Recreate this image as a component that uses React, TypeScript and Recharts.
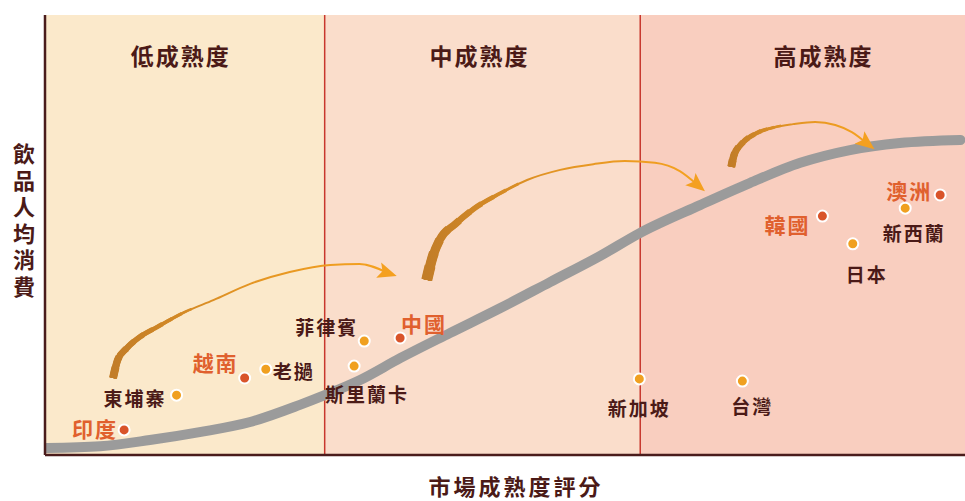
import React from "react";
import {
  ComposedChart,
  Label,
  Line,
  ReferenceArea,
  ReferenceLine,
  Scatter,
  XAxis,
  YAxis,
} from "recharts";

// x: 市場成熟度評分 (0-100), y: 飲品人均消費 (0-100)
const zoneNames = ["低成熟度", "中成熟度", "高成熟度"];
const zoneBreaks = [0, 30.4, 64.7, 100];

const maturityCurve = [
  { x: 0.2, y: 1.6 },
  { x: 6.0, y: 2.0 },
  { x: 11.4, y: 3.4 },
  { x: 16.8, y: 5.2 },
  { x: 22.3, y: 7.5 },
  { x: 27.7, y: 11.4 },
  { x: 30.4, y: 13.6 },
  { x: 34.2, y: 17.0 },
  { x: 38.6, y: 22.0 },
  { x: 44.0, y: 27.7 },
  { x: 49.5, y: 33.4 },
  { x: 54.9, y: 39.3 },
  { x: 60.3, y: 45.2 },
  { x: 64.7, y: 50.5 },
  { x: 71.2, y: 56.8 },
  { x: 76.6, y: 61.8 },
  { x: 82.1, y: 66.4 },
  { x: 87.5, y: 69.3 },
  { x: 92.9, y: 70.9 },
  { x: 99.5, y: 71.6 },
];

// 重點市場 (紅點)
const focusMarkets = [
  { name: "印度", x: 8.6, y: 5.7 },
  { name: "越南", x: 21.7, y: 17.5 },
  { name: "中國", x: 38.6, y: 26.6 },
  { name: "韓國", x: 84.5, y: 54.3 },
  { name: "澳洲", x: 97.3, y: 59.1 },
];

// 其他市場 (橙點)
const otherMarkets = [
  { name: "東埔寨", x: 14.3, y: 13.6 },
  { name: "老撾", x: 24.0, y: 19.5 },
  { name: "菲律賓", x: 34.7, y: 25.9 },
  { name: "斯里蘭卡", x: 33.6, y: 20.2 },
  { name: "新加坡", x: 64.6, y: 17.3 },
  { name: "台灣", x: 75.8, y: 16.8 },
  { name: "日本", x: 87.8, y: 48.0 },
  { name: "新西蘭", x: 93.5, y: 56.1 },
];

// 升級路徑箭頭
const arrowLow = [
  { x: 7.4, y: 17.5 },
  { x: 7.9, y: 21.6 },
  { x: 8.9, y: 24.3 },
  { x: 10.3, y: 26.8 },
  { x: 12.2, y: 29.1 },
  { x: 15.2, y: 32.5 },
  { x: 18.3, y: 35.2 },
  { x: 22.3, y: 38.9 },
  { x: 26.6, y: 41.6 },
  { x: 31.0, y: 43.2 },
  { x: 34.2, y: 43.4 },
  { x: 37.2, y: 41.4 },
];
const arrowMid = [
  { x: 41.5, y: 39.8 },
  { x: 42.1, y: 44.8 },
  { x: 42.9, y: 48.9 },
  { x: 44.6, y: 52.5 },
  { x: 46.7, y: 56.1 },
  { x: 49.5, y: 59.5 },
  { x: 52.4, y: 62.5 },
  { x: 56.0, y: 64.8 },
  { x: 59.6, y: 66.1 },
  { x: 63.0, y: 66.8 },
  { x: 66.3, y: 66.4 },
  { x: 69.0, y: 64.5 },
  { x: 70.9, y: 61.4 },
];
const arrowHigh = [
  { x: 74.6, y: 65.5 },
  { x: 74.9, y: 68.2 },
  { x: 75.8, y: 70.9 },
  { x: 77.4, y: 73.2 },
  { x: 79.3, y: 74.5 },
  { x: 81.3, y: 75.2 },
  { x: 83.7, y: 75.7 },
  { x: 85.9, y: 75.0 },
  { x: 87.7, y: 73.4 },
  { x: 89.3, y: 70.9 },
];

const FONT = "'Noto Sans CJK TC', 'Noto Sans CJK SC', sans-serif";
const DARK = "#4B1A17";
const RED_TEXT = "#E0602E";
const ZONE_FILLS = ["#FBE9CB", "#FADDCB", "#F9CEBF"];
const ZONE_TITLE_DX = [-4, -3, 21];
const TAPER_STEPS = 10;
const ARROW_MIN_W = 2;

const arrows = [
  { id: "low", data: arrowLow, angle: 18, maxW: 8, taperLen: 110 },
  { id: "mid", data: arrowMid, angle: 40, maxW: 11, taperLen: 140 },
  { id: "high", data: arrowHigh, angle: 38, maxW: 8, taperLen: 70 },
];

const labelPlace: Record<string, { dx: number; dy: number; anchor: "start" | "middle" | "end" }> = {
  印度: { dx: -6, dy: -2, anchor: "end" },
  東埔寨: { dx: -10, dy: 2, anchor: "end" },
  越南: { dx: -6, dy: -16, anchor: "end" },
  老撾: { dx: 7, dy: 1, anchor: "start" },
  菲律賓: { dx: -6, dy: -15, anchor: "end" },
  中國: { dx: 1, dy: -15, anchor: "start" },
  斯里蘭卡: { dx: 13, dy: 27, anchor: "middle" },
  新加坡: { dx: 0, dy: 29, anchor: "middle" },
  台灣: { dx: 10, dy: 24, anchor: "middle" },
  韓國: { dx: -12, dy: 8, anchor: "end" },
  日本: { dx: 14, dy: 30, anchor: "middle" },
  澳洲: { dx: -8, dy: -5, anchor: "end" },
  新西蘭: { dx: 9, dy: 24, anchor: "middle" },
};

const marketShape = (fill: string, textFill: string, size: number) => (props: any) => {
  const { cx, cy, payload } = props;
  const p = labelPlace[payload.name];
  return (
    <g>
      <circle cx={cx} cy={cy} r={5.5} fill={fill} stroke="#fff" strokeWidth={2} />
      <text
        x={cx + p.dx}
        y={cy + p.dy}
        textAnchor={p.anchor}
        dominantBaseline="central"
        fontSize={size}
        fontWeight={700}
        fill={textFill}
        fontFamily={FONT}
        letterSpacing={2}
      >
        {payload.name}
      </text>
    </g>
  );
};

const zoneTitle = (name: string, dx: number) => (props: any) => {
  const vb = props.viewBox;
  return (
    <text
      x={vb.x + vb.width / 2 + dx}
      y={vb.y + 40}
      textAnchor="middle"
      dominantBaseline="central"
      fontSize={23}
      fontWeight={700}
      fill={DARK}
      fontFamily={FONT}
      letterSpacing={2}
    >
      {name}
    </text>
  );
};

const yTitle = (props: any) => {
  const vb = props.viewBox;
  return (
    <text
      x={vb.x + 24}
      y={143}
      textAnchor="start"
      fontSize={22}
      fontWeight={700}
      fill={DARK}
      fontFamily={FONT}
      letterSpacing={4.5}
      style={{ writingMode: "vertical-rl", textOrientation: "upright" } as any}
    >
      飲品人均消費
    </text>
  );
};

const xTitle = (props: any) => {
  const vb = props.viewBox;
  return (
    <text
      x={516}
      y={vb.y + 30}
      textAnchor="middle"
      dominantBaseline="central"
      fontSize={22}
      fontWeight={700}
      fill={DARK}
      fontFamily={FONT}
      letterSpacing={3}
    >
      市場成熟度評分
    </text>
  );
};

export default function App() {
  const steps = Array.from({ length: TAPER_STEPS }, (_, k) => k);
  return (
    <div style={{ position: "absolute", left: 0, top: 0, background: "#fff" }}>
      <ComposedChart
        width={965}
        height={501}
        margin={{ top: 15, right: 0, bottom: 0, left: 0 }}
      >
        <defs>
          {arrows.map((a) => (
            <linearGradient key={a.id} id={`grad-${a.id}`} x1="0" y1="0" x2="1" y2="0">
              <stop offset="0%" stopColor="#C27D28" />
              <stop offset="45%" stopColor="#E29424" />
              <stop offset="100%" stopColor="#F5A21F" />
            </linearGradient>
          ))}
        </defs>
        <XAxis
          type="number"
          dataKey="x"
          domain={[0, 100]}
          allowDataOverflow
          tick={false}
          tickLine={false}
          height={46}
          axisLine={{ stroke: "#4A1C1C", strokeWidth: 2.5 }}
        >
          <Label content={xTitle} />
        </XAxis>
        <YAxis
          type="number"
          dataKey="y"
          domain={[0, 100]}
          allowDataOverflow
          tick={false}
          tickLine={false}
          width={45}
          axisLine={{ stroke: "#4A1C1C", strokeWidth: 2.5 }}
        >
          <Label content={yTitle} />
        </YAxis>

        {zoneNames.map((name, i) => (
          <ReferenceArea
            key={name}
            x1={zoneBreaks[i]}
            x2={zoneBreaks[i + 1]}
            y1={0}
            y2={100}
            fill={ZONE_FILLS[i]}
            fillOpacity={1}
            stroke="none"
            label={zoneTitle(name, ZONE_TITLE_DX[i])}
          />
        ))}
        {zoneBreaks.slice(1, 3).map((b) => (
          <ReferenceLine key={b} x={b} stroke="#C8372D" strokeWidth={1.5} />
        ))}

        <Line
          data={maturityCurve}
          dataKey="y"
          type="monotone"
          stroke="#9B9B9B"
          strokeWidth={10}
          strokeLinecap="round"
          dot={false}
          activeDot={false}
          isAnimationActive={false}
        />

        {arrows.map((a) =>
          steps.map((k) => (
            <Line
              key={`${a.id}-t${k}`}
              data={a.data}
              dataKey="y"
              type="monotone"
              stroke={`url(#grad-${a.id})`}
              strokeWidth={ARROW_MIN_W + ((a.maxW - ARROW_MIN_W) * (TAPER_STEPS - k)) / TAPER_STEPS}
              strokeDasharray={`${(a.taperLen * (k + 1)) / TAPER_STEPS} 3000`}
              strokeLinecap="butt"
              dot={false}
              activeDot={false}
              isAnimationActive={false}
            />
          ))
        )}
        {arrows.map((a) => (
          <Line
            key={`${a.id}-main`}
            data={a.data}
            dataKey="y"
            type="monotone"
            stroke={`url(#grad-${a.id})`}
            strokeWidth={ARROW_MIN_W}
            activeDot={false}
            isAnimationActive={false}
            dot={(p: any) =>
              p.index === a.data.length - 1 ? (
                <polygon
                  key={`${a.id}-head`}
                  transform={`translate(${p.cx},${p.cy}) rotate(${a.angle})`}
                  points="10,0 -9,-8 -5,0 -9,8"
                  fill="#F4A020"
                />
              ) : (
                <g key={`${a.id}-d${p.index}`} />
              )
            }
          />
        ))}

        <Scatter
          data={otherMarkets}
          dataKey="y"
          shape={marketShape("#F0A020", DARK, 19)}
          isAnimationActive={false}
        />
        <Scatter
          data={focusMarkets}
          dataKey="y"
          shape={marketShape("#D9542A", RED_TEXT, 21)}
          isAnimationActive={false}
        />
      </ComposedChart>
    </div>
  );
}
